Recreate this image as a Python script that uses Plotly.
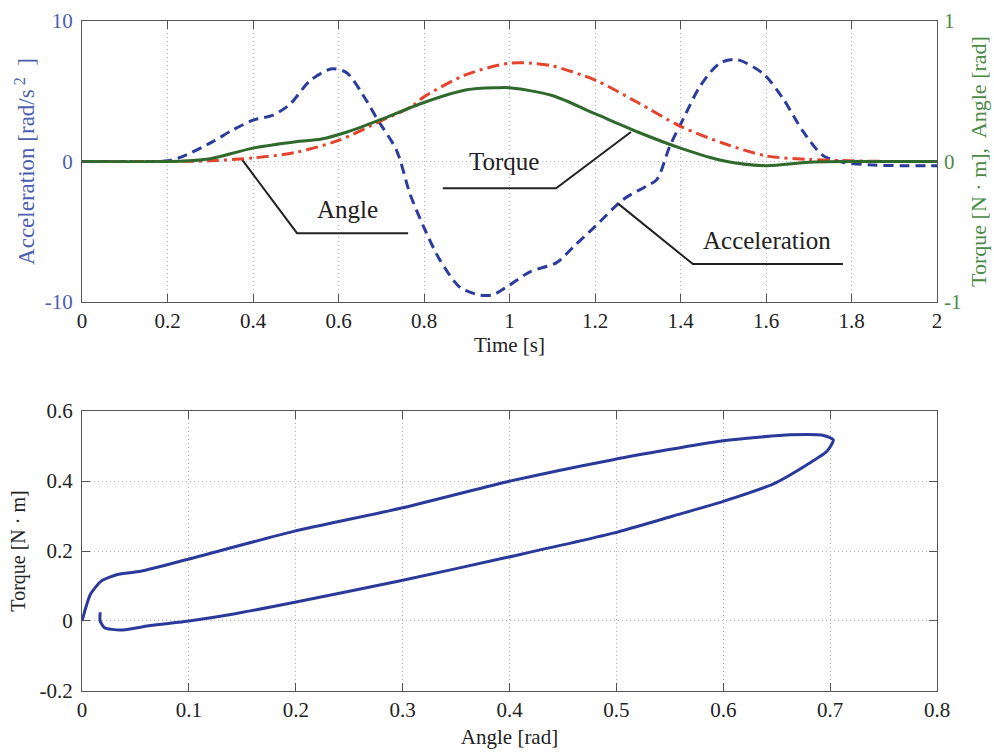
import plotly.graph_objects as go

# ---- Top panel data (time histories) ----
time_acc = [0, 0.1, 0.2, 0.236, 0.307, 0.35, 0.4, 0.447, 0.487, 0.533, 0.585, 0.62, 0.666,
            0.69, 0.736, 0.767, 0.8, 0.837, 0.884, 0.93, 0.96, 1.0, 1.048, 1.11, 1.15, 1.2,
            1.266, 1.32, 1.345, 1.375, 1.406, 1.446, 1.492, 1.532, 1.594, 1.64, 1.687, 1.733,
            1.78, 1.85, 1.92, 2.0]
acceleration = [0, 0, 0.05, 0.36, 1.43, 2.2, 2.94, 3.3, 4.09, 5.74, 6.6, 6.3, 4.3,
                3.05, 0.78, -2.28, -4.7, -7.0, -8.95, -9.5, -9.5, -8.8, -7.85, -7.2, -6.06, -4.63,
                -2.7, -1.76, -1.27, 1.09, 3.0, 5.37, 7.0, 7.25, 6.24, 4.47, 2.13, 0.43,
                -0.05, -0.25, -0.3, -0.3]

time_ang = [0, 0.2, 0.3, 0.4, 0.5, 0.6, 0.7, 0.77, 0.8, 0.9, 1.0, 1.05, 1.1, 1.2, 1.3, 1.4,
            1.5, 1.6, 1.7, 1.8, 1.9, 2.0]
angle = [0, 0, 0.005, 0.025, 0.065, 0.15, 0.29, 0.39, 0.46, 0.62, 0.70, 0.70, 0.68, 0.58,
         0.42, 0.25, 0.13, 0.04, 0.015, 0.005, 0.0, 0.0]

time_trq = [0, 0.2, 0.25, 0.3, 0.4, 0.5, 0.56, 0.62, 0.7, 0.8, 0.9, 0.97, 1.0, 1.1, 1.2, 1.3,
            1.4, 1.5, 1.6, 1.7, 1.8, 2.0]
torque = [0, 0, 0.005, 0.02, 0.095, 0.14, 0.16, 0.21, 0.3, 0.42, 0.51, 0.525, 0.525, 0.47,
          0.34, 0.21, 0.095, 0.005, -0.03, -0.005, 0.0, 0.0]

# ---- Bottom panel data (torque vs angle loop) ----
loop_angle = [0, 0.008, 0.018, 0.033, 0.055, 0.1, 0.198, 0.298, 0.398, 0.497, 0.6, 0.663,
              0.694, 0.703, 0.697, 0.678, 0.647, 0.6, 0.553, 0.497, 0.398, 0.298, 0.198,
              0.142, 0.1, 0.064, 0.036, 0.021, 0.017, 0.017]
loop_torque = [0, 0.077, 0.114, 0.133, 0.142, 0.177, 0.256, 0.322, 0.398, 0.461, 0.515, 0.532,
               0.53, 0.517, 0.485, 0.446, 0.392, 0.342, 0.30, 0.251, 0.182, 0.115, 0.053,
               0.02, 0.0, -0.013, -0.026, -0.019, 0.0, 0.025]

# tick labels (hyphen minus as in the reference)
acc_ticks = [-10, 0, 10]
acc_ticktext = ["-10", "0", "10"]
right_ticks = [-1, 0, 1]
right_ticktext = ["-1", "0", "1"]
time_ticks = [0, 0.2, 0.4, 0.6, 0.8, 1, 1.2, 1.4, 1.6, 1.8, 2]
time_ticktext = ["0", "0.2", "0.4", "0.6", "0.8", "1", "1.2", "1.4", "1.6", "1.8", "2"]
ang_ticks = [0, 0.1, 0.2, 0.3, 0.4, 0.5, 0.6, 0.7, 0.8]
ang_ticktext = ["0", "0.1", "0.2", "0.3", "0.4", "0.5", "0.6", "0.7", "0.8"]
trq_ticks = [-0.2, 0, 0.2, 0.4, 0.6]
trq_ticktext = ["-0.2", "0", "0.2", "0.4", "0.6"]

# label annotations: (text, text x, text y, leader-line x list, leader-line y list) in top axes units
labels = [
    ("Angle", 0.622, -3.4, [0.374, 0.503, 0.763], [0.15, -5.1, -5.1]),
    ("Torque", 0.987, 0.0, [0.844, 1.109, 1.284], [-1.9, -1.9, 2.1]),
    ("Acceleration", 1.602, -5.6, [1.254, 1.429, 1.78], [-3.0, -7.3, -7.3]),
]

FONT = "Liberation Serif"
BLUE_AX = "#4a5fb0"
GREEN_AX = "#4a8a45"
FRAME = "#555555"
GRID = "#b4b4b4"

fig = go.Figure()

fig.add_trace(go.Scatter(x=time_acc, y=acceleration, mode="lines", xaxis="x", yaxis="y",
                         line=dict(color="#2b3c9c", width=3, dash="10px,6px", shape="spline", smoothing=0.8),
                         showlegend=False))
fig.add_trace(go.Scatter(x=time_ang, y=angle, mode="lines", xaxis="x", yaxis="y2",
                         line=dict(color="#e5432c", width=3, dash="12px,5px,3px,5px", shape="spline", smoothing=0.8),
                         showlegend=False))
fig.add_trace(go.Scatter(x=time_trq, y=torque, mode="lines", xaxis="x", yaxis="y2",
                         line=dict(color="#2f6a2c", width=3, shape="spline", smoothing=0.8),
                         showlegend=False))
fig.add_trace(go.Scatter(x=loop_angle, y=loop_torque, mode="lines", xaxis="x2", yaxis="y3",
                         line=dict(color="#2a3a9a", width=3, shape="spline", smoothing=0.6),
                         showlegend=False))

for text, tx, ty, lx, ly in labels:
    fig.add_trace(go.Scatter(x=lx, y=ly, mode="lines", xaxis="x", yaxis="y",
                             line=dict(color="#222222", width=2), showlegend=False, hoverinfo="skip"))
    fig.add_annotation(x=tx, y=ty, xref="x", yref="y", text=text, showarrow=False,
                       font=dict(family=FONT, size=25, color="#222222"))

tick_font = dict(family=FONT, size=21, color="#222222")
common_x = dict(showline=True, linecolor=FRAME, linewidth=1, mirror="ticks", ticks="inside",
                ticklen=8, tickcolor=FRAME, showgrid=True, gridcolor=GRID, griddash="1px,3px",
                gridwidth=1, zeroline=False, tickfont=tick_font, automargin=False,
                ticklabelstandoff=0)

fig.update_layout(
    width=994, height=756,
    margin=dict(l=82, r=57, t=21, b=65),
    paper_bgcolor="white", plot_bgcolor="white",
    font=dict(family=FONT),
    xaxis=dict(domain=[0, 1], anchor="y", range=[0, 2], tickvals=time_ticks, ticktext=time_ticktext,
               title=dict(text="Time [s]", font=dict(family=FONT, size=21, color="#222222"), standoff=4),
               **common_x),
    yaxis=dict(domain=[0.5806, 1], anchor="x", range=[-10, 10], tickvals=acc_ticks, ticktext=acc_ticktext,
               showline=True, linecolor=FRAME, mirror=True, ticks="inside", ticklen=8, tickcolor=FRAME,
               showgrid=True, gridcolor=GRID, griddash="1px,3px", zeroline=False, automargin=False,
               tickfont=dict(family=FONT, size=21, color=BLUE_AX), ticklabelstandoff=4,
               title=dict(text="Acceleration [rad/s<sup> 2</sup>  ]",
                          font=dict(family=FONT, size=23, color=BLUE_AX), standoff=3)),
    yaxis2=dict(overlaying="y", side="right", anchor="x", range=[-1, 1], tickvals=right_ticks,
                ticktext=right_ticktext, automargin=False,
                showline=False, ticks="inside", ticklen=8, tickcolor=FRAME, showgrid=False,
                zeroline=False, tickfont=dict(family=FONT, size=21, color=GREEN_AX), ticklabelstandoff=6,
                title=dict(text="Torque [N · m],  Angle [rad]",
                           font=dict(family=FONT, size=22, color=GREEN_AX), standoff=10)),
    xaxis2=dict(domain=[0, 1], anchor="y3", range=[0, 0.8], tickvals=ang_ticks, ticktext=ang_ticktext,
                title=dict(text="Angle [rad]", font=dict(family=FONT, size=21, color="#222222"), standoff=8),
                **common_x),
    yaxis3=dict(domain=[0, 0.4179], anchor="x2", range=[-0.2, 0.6], tickvals=trq_ticks, ticktext=trq_ticktext,
                showline=True, linecolor=FRAME, mirror="ticks", ticks="inside", ticklen=8, tickcolor=FRAME,
                showgrid=True, gridcolor=GRID, griddash="1px,3px", zeroline=False, automargin=False,
                tickfont=tick_font, ticklabelstandoff=4,
                title=dict(text="Torque [N · m]", font=dict(family=FONT, size=20, color="#222222"), standoff=8)),
)

fig.write_html("out.html")
